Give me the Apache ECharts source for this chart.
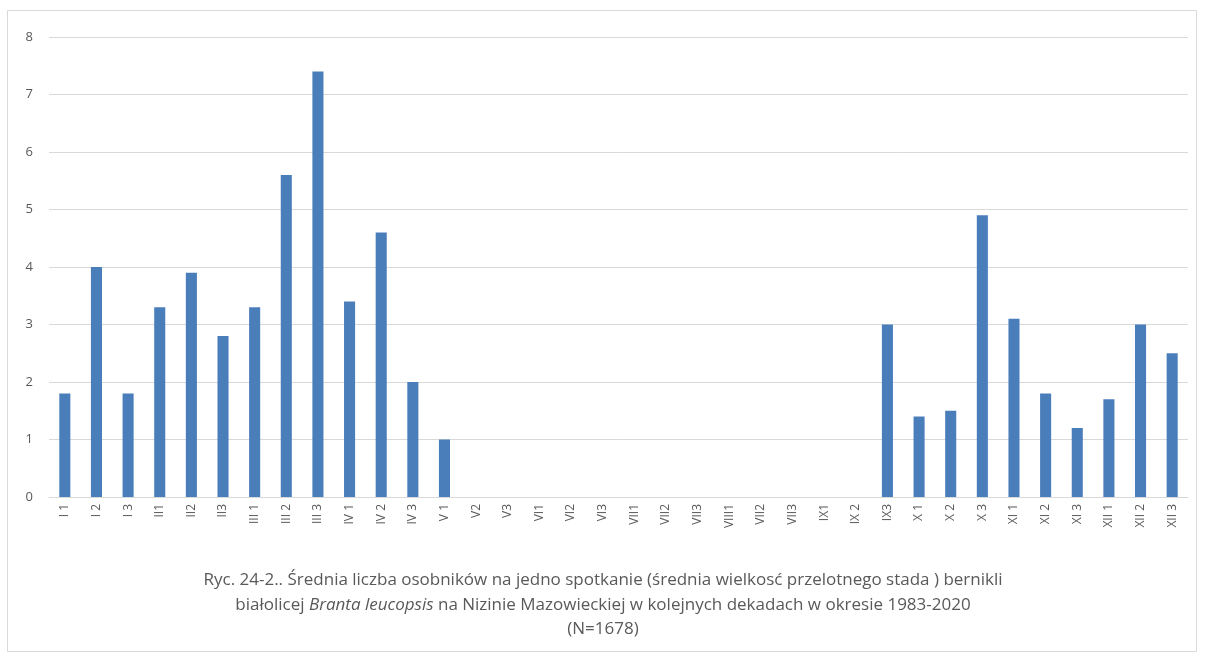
<!DOCTYPE html>
<html><head><meta charset="utf-8">
<script src="https://cdn.jsdelivr.net/npm/echarts@6/dist/echarts.min.js"></script>
<style>html,body{margin:0;padding:0;background:#fff}#c{width:1206px;height:655px}</style>
</head><body><div id="c"></div>
<script>
const categories = ['I 1','I 2','I 3','II1','II2','II3','III 1','III 2','III 3','IV 1','IV 2','IV 3','V 1','V2','V3','VI1','VI2','VI3','VII1','VII2','VII3','VIII1','VII2','VII3','IX1','IX 2','IX3','X 1','X 2','X 3','XI 1','XI 2','XI 3','XII 1','XII 2','XII 3'];
const values = [1.8,4.0,1.8,3.3,3.9,2.8,3.3,5.6,7.4,3.4,4.6,2.0,1.0,0,0,0,0,0,0,0,0,0,0,0,0,0,3.0,1.4,1.5,4.9,3.1,1.8,1.2,1.7,3.0,2.5];
const yTicks = [0,1,2,3,4,5,6,7,8];
const captionLines = [
  'Ryc. 24-2.. Średnia liczba osobników na jedno spotkanie (średnia wielkosć przelotnego stada ) bernikli',
  'białolicej {i|Branta leucopsis} na Nizinie Mazowieckiej w kolejnych dekadach w okresie 1983-2020',
  '(N=1678)'
];
const font = '"Open Sans", "Liberation Sans", sans-serif';
const chart = echarts.init(document.getElementById('c'));
const capTops = [567, 592, 616];
chart.setOption({
  animation: false,
  backgroundColor: '#fff',
  title: captionLines.map((t, i) => ({
    text: t, left: 'center', top: capTops[i],
    textStyle: { fontFamily: font, fontSize: 17, fontWeight: 'normal', color: '#595959',
      rich: { i: { fontFamily: font, fontSize: 17, fontStyle: 'italic', color: '#595959' } } }
  })),
  graphic: [{ type: 'rect', shape: { x: 7.5, y: 10.5, width: 1189, height: 641 },
    style: { fill: 'none', stroke: '#d9d9d9', lineWidth: 1 } }],
  grid: { left: 49, right: 18, top: 37, bottom: 158 },
  xAxis: {
    type: 'category', data: categories,
    axisLine: { lineStyle: { color: '#d9d9d9' } },
    axisTick: { show: false },
    axisLabel: { rotate: 90, interval: 0, fontFamily: font, fontSize: 12, color: '#595959', margin: 7 }
  },
  yAxis: {
    type: 'value', min: yTicks[0], max: yTicks[yTicks.length - 1], interval: 1,
    axisLine: { show: false }, axisTick: { show: false },
    axisLabel: { fontFamily: font, fontSize: 13, color: '#595959', margin: 16 },
    splitLine: { lineStyle: { color: '#d9d9d9' } }
  },
  series: [{ type: 'bar', data: values, barWidth: '35%', itemStyle: { color: '#4a7ebb' } }]
});
</script></body></html>
